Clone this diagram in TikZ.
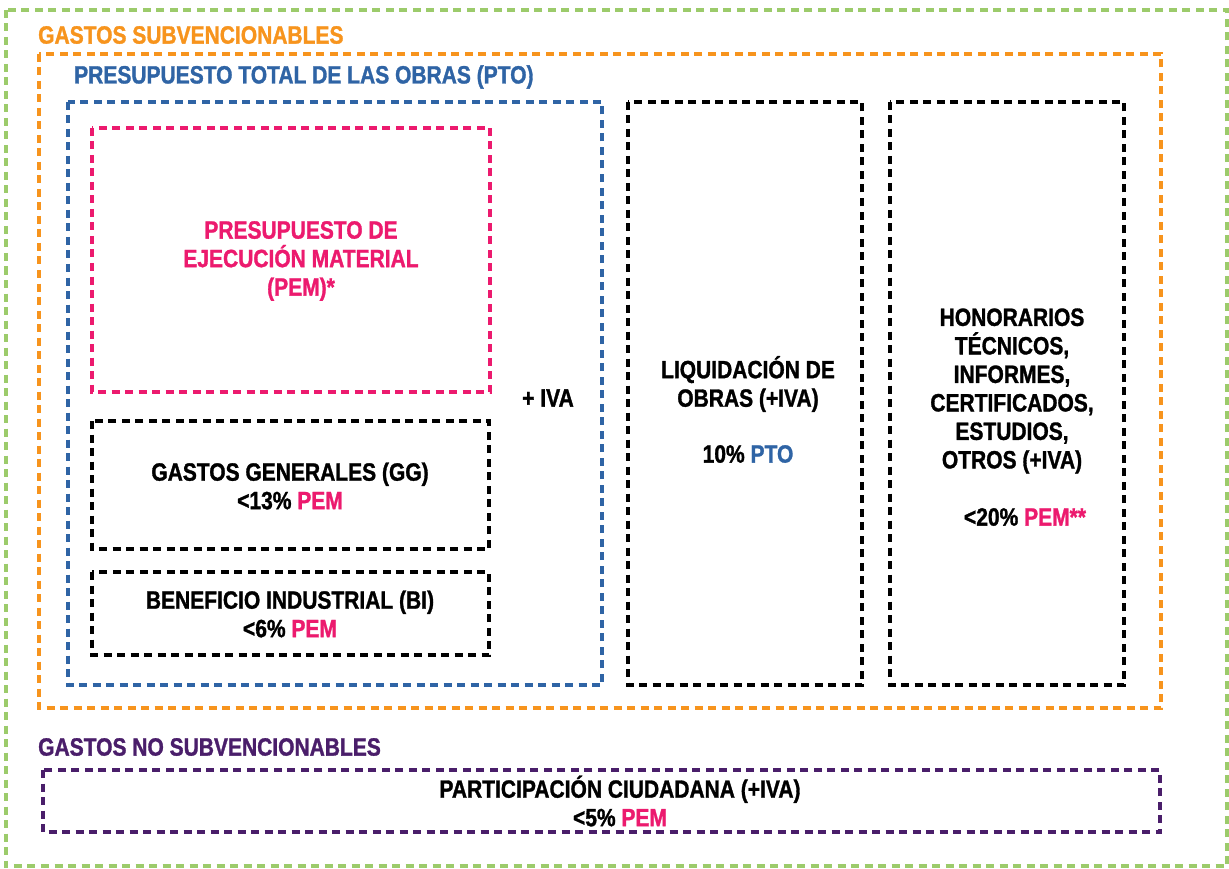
\documentclass[tikz,border=0pt]{standalone}
\usepackage{fontspec}
\setmainfont{Liberation Sans}[FakeStretch=0.84,BoldFeatures={FakeBold=1.2}]
\definecolor{cgreen}{HTML}{9CCB6B}
\definecolor{corange}{HTML}{F7941D}
\definecolor{cblue}{HTML}{2F64A5}
\definecolor{cpink}{HTML}{EC1A6E}
\definecolor{cpurple}{HTML}{4A1E6A}
\begin{document}
\begin{tikzpicture}[x=1pt,y=-1pt,
  dbox/.style={draw=#1, line width=3.4pt, dash pattern=on 8pt off 5.5pt, inner sep=0pt},
  txt/.style={font=\bfseries\fontsize{25}{28.5}\selectfont, align=center, inner sep=0pt, text=#1},
  txt/.default=black,
  lbl/.style={font=\bfseries\fontsize{25}{28}\selectfont, anchor=west, inner sep=0pt, text=#1}]
\useasboundingbox[fill=white] (0,0) rectangle (1229,869);
% boxes
\draw[dbox=cgreen] (6,10) rectangle (1227,866);
\draw[dbox=corange] (39,54) rectangle (1161,708);
\draw[dbox=cblue] (68,102) rectangle (602,685);
\draw[dbox=cpink] (92,128) rectangle (490,392);
\draw[dbox=black] (92,421) rectangle (489,549);
\draw[dbox=black] (92,572) rectangle (489,655);
\draw[dbox=black] (628,102) rectangle (862,685);
\draw[dbox=black] (890,102) rectangle (1124,685);
\draw[dbox=cpurple] (43,770) rectangle (1160,832);
% labels
\node[lbl=corange] (lsub) at (38,35) {GASTOS SUBVENCIONABLES};
\node[lbl=cblue] (lpto) at (74,77) {PRESUPUESTO TOTAL DE LAS OBRAS (PTO)};
\node[lbl=cpurple] (lnosub) at (38,747) {GASTOS NO SUBVENCIONABLES};
% texts
\node[txt=cpink] (pem) at (301,261) {PRESUPUESTO DE\\EJECUCIÓN MATERIAL\\(PEM)*};
\node[txt] (gg) at (290,486) {GASTOS GENERALES (GG)\\<13\% \textcolor{cpink}{PEM}};
\node[txt] (bi) at (290,614) {BENEFICIO INDUSTRIAL (BI)\\<6\% \textcolor{cpink}{PEM}};
\node[txt] (iva) at (548,398) {+ IVA};
\node[txt] (liq) at (748,384) {LIQUIDACIÓN DE\\OBRAS (+IVA)};
\node[txt] (liqp) at (748,454) {10\% \textcolor{cblue}{PTO}};
\node[txt] (hon) at (1012,391) {HONORARIOS\\TÉCNICOS,\\INFORMES,\\CERTIFICADOS,\\ESTUDIOS,\\OTROS (+IVA)};
\node[txt] (honp) at (1025,517) {<20\% \textcolor{cpink}{PEM**}};
\node[txt] (part) at (620,801) {PARTICIPACIÓN CIUDADANA (+IVA)\\<5\% \textcolor{cpink}{PEM}};
\end{tikzpicture}
\end{document}
